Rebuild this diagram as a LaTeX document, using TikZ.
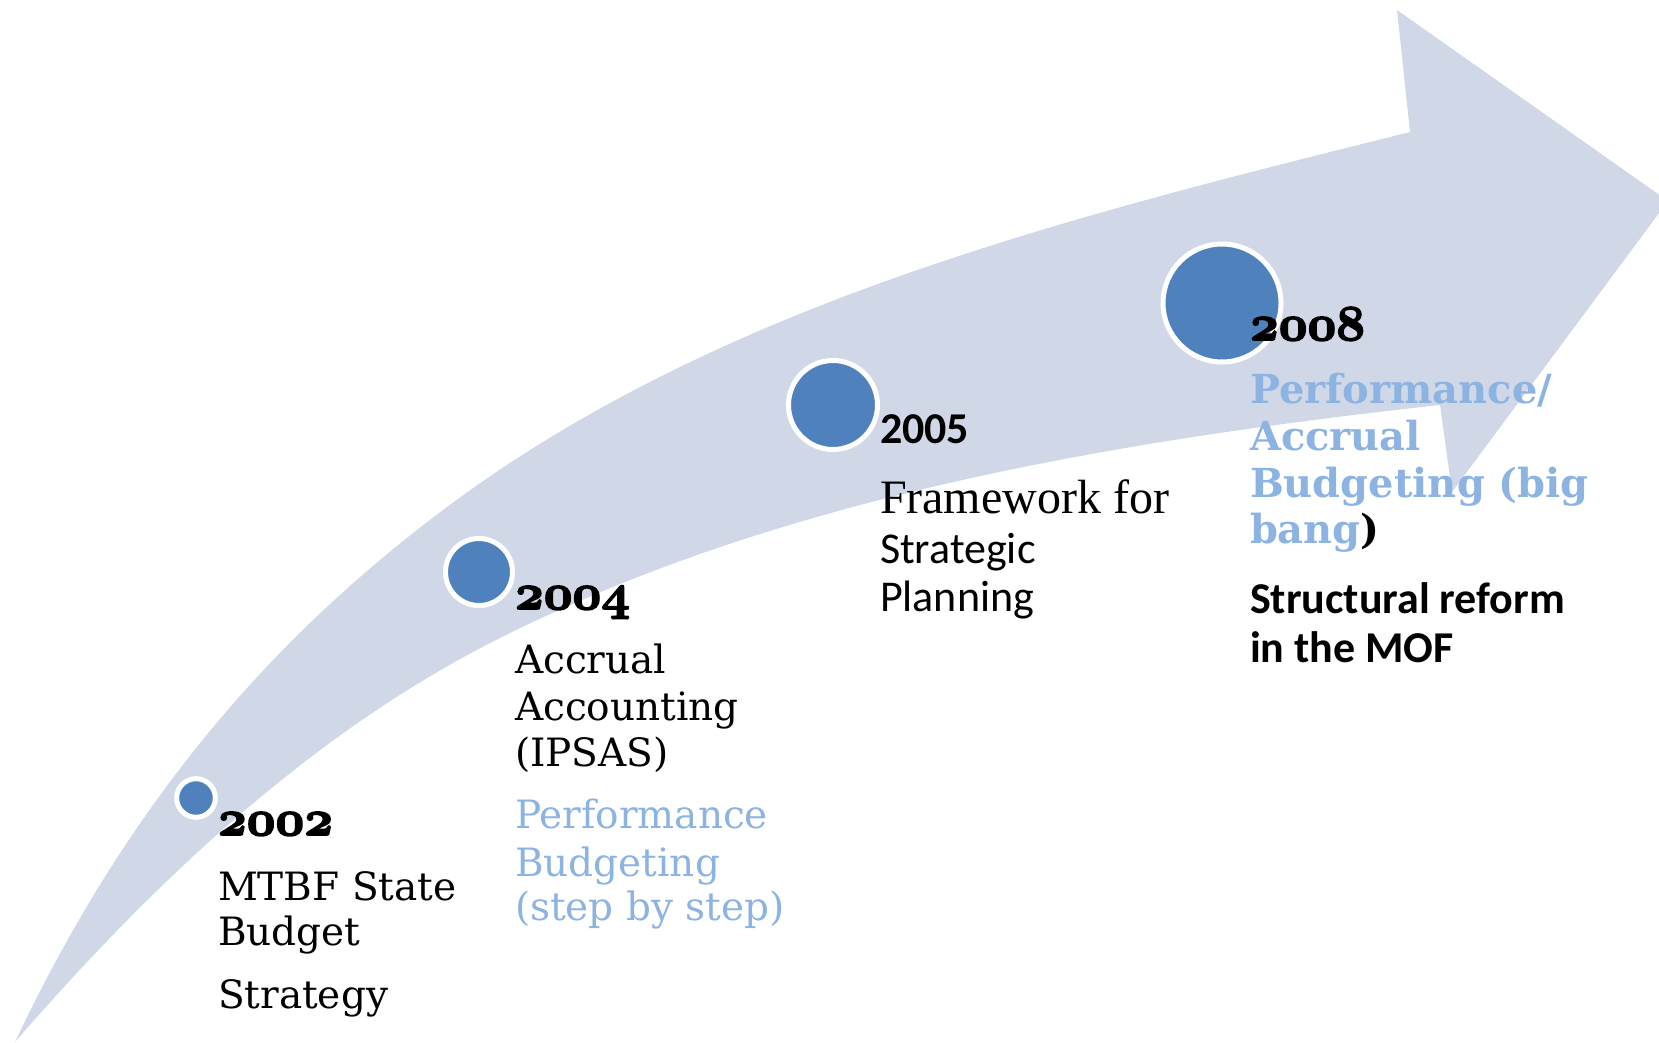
\documentclass[tikz,border=0pt]{standalone}
\usepackage{fontspec}
\setmainfont{DejaVu Serif}
\newfontfamily\sansbody{Carlito}
\newfontfamily\timesbody{Liberation Serif}
% bold old-style figures for the years, thickened with a stroke
\font\yearfnt=cmmib10 at 50pt
\newcommand\heavy[1]{\special{pdf:literal direct 1.6 w 2 Tr}#1\special{pdf:literal direct 0 Tr}}

\definecolor{bandfill}{HTML}{D0D8E8}
\definecolor{dotblue}{HTML}{4F81BD}
\definecolor{paleblue}{HTML}{8DB3E2}

\tikzset{
  milestone/.style={circle, fill=dotblue, draw=white, line width=5pt,
    inner sep=0pt, minimum size=#1},
  txt/.style={anchor=base west, inner sep=0pt, outer sep=0pt},
  yearlabel/.style={txt, font=\yearfnt},
  serifline/.style={txt, font=\fontsize{39}{46}\selectfont},
  serifbold/.style={txt, font=\fontsize{40}{46}\selectfont\bfseries},
  sansline/.style={txt, font=\fontsize{44}{48}\selectfont\sansbody},
  sansbold/.style={txt, font=\fontsize{44}{48}\selectfont\sansbody\bfseries},
}

\begin{document}
\begin{tikzpicture}[x=1pt, y=-1pt]
\useasboundingbox (0,0) rectangle (1659,1043);

% curved band with its arrowhead
\fill[bandfill]
  (15,1042) .. controls (122,816) and (259,648) .. (443,510)
            .. controls (720,302) and (1074,216) .. (1410,132)
  -- (1397,10) -- (1668,201) -- (1452,492) -- (1440,405)
  .. controls (1122,440) and (786,495) .. (500,638)
  .. controls (312,732) and (153,883) .. (15,1042)
  -- cycle;

% milestones
\node[milestone=38.6pt] (m02) at (196,798) {};
\node[milestone=67pt]   (m04) at (479,572) {};
\node[milestone=89pt]   (m05) at (833,405) {};
\node[milestone=118pt]  (m08) at (1222,303) {};

% 2002
\node[yearlabel]  (y02) at (218,835) {\heavy{2002}};
\node[serifline]  (a1) at (218,900) {MTBF State};
\node[serifline]  (a2) at (218,945) {Budget};
\node[serifline]  (a3) at (218,1008) {Strategy};

% 2004
\node[yearlabel]  (y04) at (515,609) {\heavy{2004}};
\node[serifline]  (b1) at (515,673) {Accrual};
\node[serifline]  (b2) at (515,720) {Accounting};
\node[serifline]  (b3) at (515,766) {(IPSAS)};
\node[serifline, text=paleblue] (b4) at (515,828) {Performance};
\node[serifline, text=paleblue] (b5) at (515,876) {Budgeting};
\node[serifline, text=paleblue] (b6) at (515,920) {(step by step)};

% 2005
\node[sansbold]   (y05) at (880,443) {2005};
\node[txt, font=\fontsize{48}{52}\selectfont\timesbody] (c1) at (880,513) {Framework for};
\node[sansline]   (c2) at (880,563) {Strategic};
\node[sansline]   (c3) at (880,611) {Planning};

% 2008
\node[yearlabel]  (y08) at (1250,340) {\heavy{2008}};
\node[serifbold, text=paleblue] (d1) at (1250,403) {Performance/};
\node[serifbold, text=paleblue] (d2) at (1250,450) {Accrual};
\node[serifbold, text=paleblue] (d3) at (1250,497) {Budgeting (big};
\node[serifbold]  (d4) at (1250,543) {\textcolor{paleblue}{bang})};
\node[sansbold]   (d5) at (1250,613) {Structural reform};
\node[sansbold]   (d6) at (1250,662) {in the MOF};
\end{tikzpicture}
\end{document}
